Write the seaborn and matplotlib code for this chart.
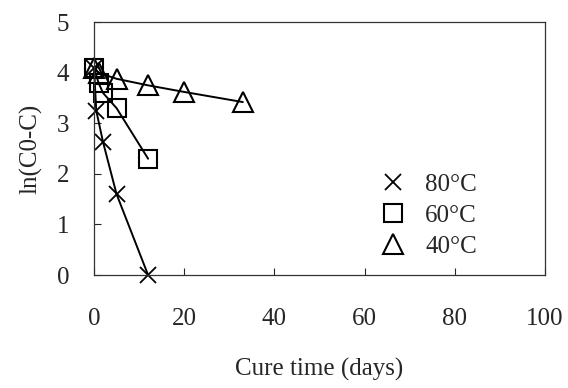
import matplotlib
matplotlib.use("Agg")
import matplotlib.pyplot as plt
import seaborn as sns

# data
days_80 = [0, 0.5, 2, 5, 12]
ln_80 = [4.1, 3.25, 2.63, 1.6, 0.0]
days_60 = [0, 1, 2, 5, 12]
ln_60 = [4.1, 3.8, 3.6, 3.3, 2.3]
days_40 = [0, 1, 5, 12, 20, 33]
ln_40 = [4.1, 4.0, 3.88, 3.75, 3.62, 3.42]

sns.set_style("ticks")
plt.rcParams['font.family'] = ['Liberation Serif', 'DejaVu Serif']

fig = plt.figure(figsize=(5.68, 3.88), dpi=100)
ax = fig.add_axes([0.1655, 0.291, 0.794, 0.652])

sns.lineplot(x=days_80, y=ln_80, ax=ax, color='black', lw=1.4, marker='x',
             markersize=12, markeredgewidth=1.3, markeredgecolor='black',
             label='80°C', clip_on=False)
sns.lineplot(x=days_60, y=ln_60, ax=ax, color='black', lw=1.4, marker='s',
             markersize=13, markerfacecolor='none', markeredgecolor='black',
             markeredgewidth=1.5, label='60°C', clip_on=False)
sns.lineplot(x=days_40, y=ln_40, ax=ax, color='black', lw=1.4, marker='^',
             markersize=14, markerfacecolor='none', markeredgecolor='black',
             markeredgewidth=1.5, label='40°C', clip_on=False)

ax.set_xlim(0, 100)
ax.set_ylim(0, 5)
ax.set_xticks([0, 20, 40, 60, 80, 100])
ax.set_yticks([0, 1, 2, 3, 4, 5])
ax.tick_params(direction='in', length=5, width=0.8, labelsize=18)
ax.tick_params(axis='x', pad=24)
ax.tick_params(axis='y', pad=18)
for s in ax.spines.values():
    s.set_linewidth(0.9)
    s.set_color('#333333')
ax.set_xlabel('Cure time (days)', fontsize=18, labelpad=20)
ax.set_ylabel('ln(C0-C)', fontsize=18, labelpad=10)

leg = ax.legend(loc='upper left', bbox_to_anchor=(0.585, 0.49), frameon=False,
                fontsize=18, handlelength=1.0, handletextpad=0.8,
                labelspacing=0.33)
for h in leg.legend_handles:
    h.set_linestyle('none')

fig.savefig('out.png', dpi=100)
